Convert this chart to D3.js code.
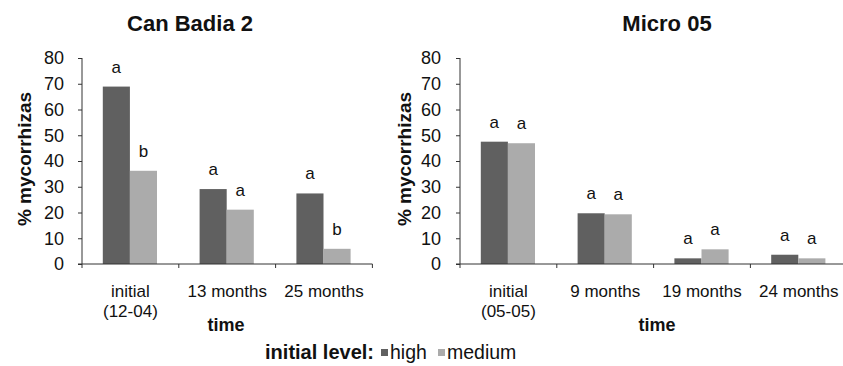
<!DOCTYPE html>
<html>
<head>
<meta charset="utf-8">
<title>mycorrhizas</title>
<script src="https://d3js.org/d3.v7.min.js"></script>
<style>
  body { margin: 0; background: #fff; }
  text { font-family: "Liberation Sans", Arial, sans-serif; fill: #111; }
  .bold { font-weight: bold; }
</style>
</head>
<body>
<svg width="843" height="366"></svg>
<script>
// data
var levels = ["high", "medium"];
var levelColors = ["#606060", "#ababab"];

var cbTimes = [["initial", "(12-04)"], ["13 months"], ["25 months"]];
var cbHigh = [68.9, 29.1, 27.4];
var cbMedium = [36.2, 21.1, 5.9];
var cbHighLetters = ["a", "a", "a"];
var cbMediumLetters = ["b", "a", "b"];

var mcTimes = [["initial", "(05-05)"], ["9 months"], ["19 months"], ["24 months"]];
var mcHigh = [47.5, 19.7, 2.2, 3.6];
var mcMedium = [46.9, 19.3, 5.7, 2.2];
var mcHighLetters = ["a", "a", "a", "a"];
var mcMediumLetters = ["a", "a", "a", "a"];

var yTicks = [0, 10, 20, 30, 40, 50, 60, 70, 80];

var svg = d3.select("svg");

function drawPanel(opt) {
  var g = svg.append("g");
  var cats = opt.times.map(function(t, i) { return i; });

  var y = d3.scaleLinear().domain([0, 80]).range([264, 58]);
  var x = d3.scaleBand().domain(cats).range([opt.x0, opt.x0 + 96.8 * cats.length]).padding(0);
  var x1 = d3.scaleBand().domain(levels).range([20.8, 75]);
  var color = d3.scaleOrdinal().domain(levels).range(levelColors);

  var rows = cats.map(function(i) {
    return {
      i: i,
      values: [
        { level: "high", v: opt.high[i], letter: opt.highLetters[i] },
        { level: "medium", v: opt.medium[i], letter: opt.mediumLetters[i] }
      ]
    };
  });

  // bars
  var grp = g.selectAll(".grp").data(rows).enter().append("g")
      .attr("transform", function(d) { return "translate(" + x(d.i) + ",0)"; });
  grp.selectAll("rect").data(function(d) { return d.values; }).enter().append("rect")
      .attr("x", function(d) { return x1(d.level); })
      .attr("width", x1.bandwidth())
      .attr("y", function(d) { return y(d.v); })
      .attr("height", function(d) { return y(0) - y(d.v); })
      .style("fill", function(d) { return color(d.level); });
  grp.selectAll("text").data(function(d) { return d.values; }).enter().append("text")
      .attr("x", function(d) { return x1(d.level) + x1.bandwidth() / 2; })
      .attr("y", function(d) { return y(d.v) - 14; })
      .attr("text-anchor", "middle")
      .style("font-size", "17px")
      .text(function(d) { return d.letter; });

  // y axis
  var yAxis = g.append("g").attr("transform", "translate(" + opt.x0 + ",0)")
      .call(d3.axisLeft(y).tickValues(yTicks).tickSize(4).tickPadding(opt.tickPad));
  yAxis.select(".domain").attr("stroke", "#333").attr("d", "M0," + y(80) + "V" + y(0));
  yAxis.selectAll(".tick line").attr("stroke", "#333");
  yAxis.selectAll(".tick text").style("font-size", "18px").style("fill", "#111").attr("font-family", null);

  // x axis with ticks at band boundaries
  var bounds = cats.concat([cats.length]).map(function(i) { return opt.x0 + 96.8 * i; });
  g.append("line").attr("x1", opt.x0 - 4).attr("x2", bounds[bounds.length - 1])
      .attr("y1", y(0)).attr("y2", y(0)).attr("stroke", "#333");
  g.selectAll(".xt").data(bounds).enter().append("line")
      .attr("x1", function(d) { return d; }).attr("x2", function(d) { return d; })
      .attr("y1", y(0)).attr("y2", y(0) + 4).attr("stroke", "#333");
  var lab = g.selectAll(".xl").data(rows).enter().append("text")
      .attr("text-anchor", "middle")
      .attr("transform", function(d) { return "translate(" + (x(d.i) + x.bandwidth() / 2) + ",297)"; })
      .style("font-size", "17px");
  lab.selectAll("tspan").data(function(d) { return opt.times[d.i]; }).enter().append("tspan")
      .attr("x", 0).attr("dy", function(d, j) { return j === 0 ? 0 : 20; })
      .text(function(d) { return d; });

  // titles
  g.append("text").attr("class", "bold").attr("x", opt.titleX).attr("y", 31)
      .attr("text-anchor", "middle").style("font-size", "22px").text(opt.title);
  g.append("text").attr("class", "bold").attr("x", opt.timeX).attr("y", 331)
      .attr("text-anchor", "middle").style("font-size", "18px").text("time");
  g.append("text").attr("class", "bold")
      .attr("transform", "translate(" + opt.yLabX + ",159) rotate(-90)")
      .attr("text-anchor", "middle").style("font-size", "19px").text("% mycorrhizas");
}

drawPanel({ x0: 82, times: cbTimes, high: cbHigh, medium: cbMedium,
  highLetters: cbHighLetters, mediumLetters: cbMediumLetters,
  title: "Can Badia 2", titleX: 190, timeX: 226, yLabX: 31, tickPad: 14 });
drawPanel({ x0: 460, times: mcTimes, high: mcHigh, medium: mcMedium,
  highLetters: mcHighLetters, mediumLetters: mcMediumLetters,
  title: "Micro 05", titleX: 667, timeX: 657, yLabX: 411, tickPad: 15 });

// legend
var leg = svg.append("g");
leg.append("text").attr("class", "bold").attr("x", 374).attr("y", 359)
   .attr("text-anchor", "end").style("font-size", "20px").text("initial level:");
var legItems = [{ level: "high", x: 381 }, { level: "medium", x: 438 }];
leg.selectAll("rect").data(legItems).enter().append("rect")
   .attr("x", function(d) { return d.x; }).attr("y", 349).attr("width", 7).attr("height", 7)
   .style("fill", function(d, i) { return levelColors[i]; });
leg.selectAll(".lt").data(legItems).enter().append("text")
   .attr("x", function(d) { return d.x + 9; }).attr("y", 359)
   .style("font-size", "19.5px").text(function(d) { return d.level; });
</script>
</body>
</html>
